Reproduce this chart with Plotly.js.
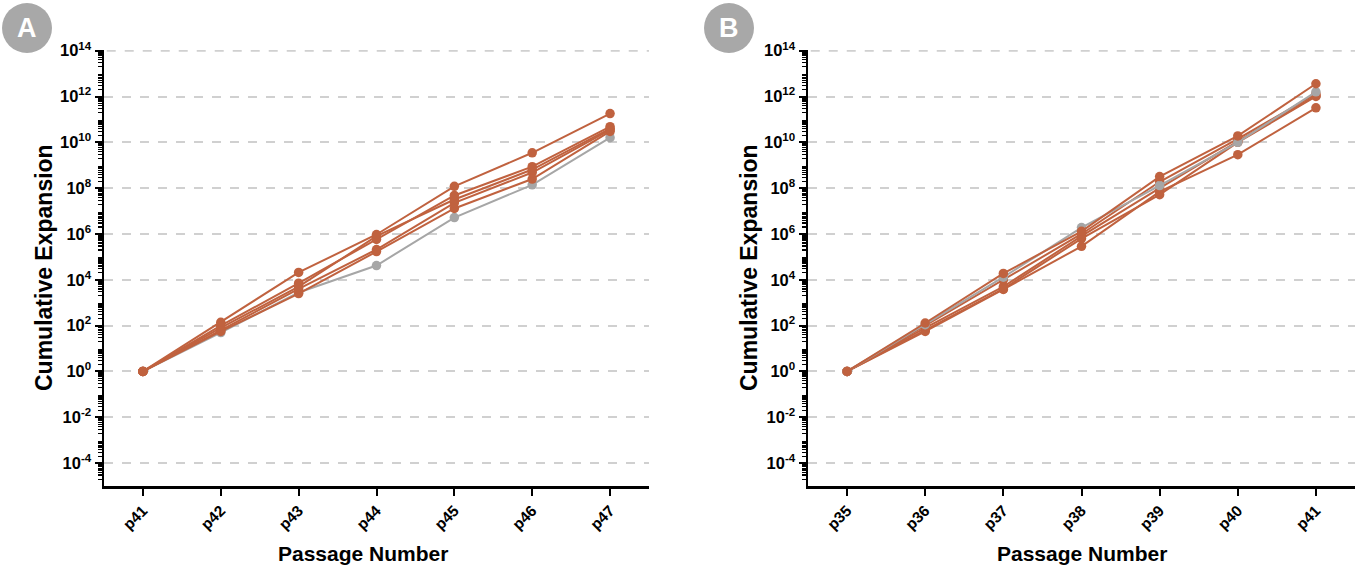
<!DOCTYPE html>
<html>
<head>
<meta charset="utf-8">
<script src="https://cdn.plot.ly/plotly-3.0.1.min.js"></script>
<style>
html,body{margin:0;padding:0;background:#fff;}
#chart{width:1367px;height:572px;}
</style>
</head>
<body>
<div id="chart"></div>
<script>
// Panel A
const passagesA = ["p41","p42","p43","p44","p45","p46","p47"];
const a1 = [1, 1.4e2, 2.1e4, 9.5e5, 1.2e8, 3.5e9, 1.8e11];
const a2 = [1, 1.0e2, 7.1e3, 5.8e5, 4.8e7, 8.7e8, 4.8e10];
const a3 = [1, 8.0e1, 5.0e3, 8.0e5, 3.2e7, 6.5e8, 4.0e10];
const a4 = [1, 6.3e1, 4.0e3, 2.1e5, 2.3e7, 4.8e8, 3.5e10];
const a5 = [1, 5.6e1, 2.5e3, 1.7e5, 1.3e7, 2.5e8, 3.0e10];
const aGray = [1, 5.0e1, 2.8e3, 4.2e4, 5.2e6, 1.4e8, 1.6e10];

// Panel B
const passagesB = ["p35","p36","p37","p38","p39","p40","p41"];
const b1 = [1, 1.3e2, 1.9e4, 1.3e6, 3.2e8, 1.9e10, 3.6e12];
const b2 = [1, 1.0e2, 1.0e4, 1.0e6, 1.9e8, 1.4e10, 1.3e12];
const b3 = [1, 8.0e1, 5.0e3, 8.0e5, 1.0e8, 1.1e10, 1.1e12];
const b4 = [1, 5.6e1, 3.8e3, 2.9e5, 7.1e7, 2.9e9, 3.2e11];
const b5 = [1, 6.3e1, 4.0e3, 6.3e5, 5.2e7, 1.0e10, 1.0e12];
const bGray = [1, 1.1e2, 1.3e4, 1.9e6, 1.3e8, 1.0e10, 1.6e12];

// Y tick labels (exponents of 10)
const yExponents = [-4, -2, 0, 2, 4, 6, 8, 10, 12, 14];
const yTickVals = yExponents.map(e => Math.pow(10, e));
const yTickText = yExponents.map(e => "10<sup>" + e + "</sup>");
const yTop = 1e14;

// minor tick positions (2..9 x 10^k)
const minorVals = [];
for (let k = -5; k < 14; k++) {
  for (let m = 2; m <= 9; m++) minorVals.push(m * Math.pow(10, k));
}

const ORANGE = "#c0623f";
const GRAY = "#a6a6a6";
const GRID = "#d0d0d0";

function tr(x, y, color, xa, ya) {
  return {
    type: "scatter", mode: "lines+markers", x: x, y: y,
    xaxis: xa, yaxis: ya,
    line: {color: color, width: 2},
    marker: {color: color, size: 9.5},
    showlegend: false, hoverinfo: "skip"
  };
}

const data = [
  tr(passagesA, aGray, GRAY, "x", "y"),
  tr(passagesA, a5, ORANGE, "x", "y"),
  tr(passagesA, a4, ORANGE, "x", "y"),
  tr(passagesA, a3, ORANGE, "x", "y"),
  tr(passagesA, a2, ORANGE, "x", "y"),
  tr(passagesA, a1, ORANGE, "x", "y"),
  tr(passagesB, b5, ORANGE, "x2", "y2"),
  tr(passagesB, b4, ORANGE, "x2", "y2"),
  tr(passagesB, b3, ORANGE, "x2", "y2"),
  tr(passagesB, b2, ORANGE, "x2", "y2"),
  tr(passagesB, bGray, GRAY, "x2", "y2"),
  tr(passagesB, b1, ORANGE, "x2", "y2")
];

const FONT = "Liberation Sans, Arial, sans-serif";

function xaxis(domain, anchor) {
  return {
    domain: domain, anchor: anchor, type: "category",
    range: [-0.5, 6.5], showgrid: false, zeroline: false,
    showline: true, linecolor: "#000", linewidth: 2.5,
    ticks: "outside", ticklen: 7, tickwidth: 2, tickcolor: "#000",
    tickangle: -45, automargin: false,
    tickfont: {family: FONT, size: 15.5, color: "#000", weight: "bold"}
  };
}
function yaxis(anchor) {
  return {
    domain: [1 - 486/572, 1 - 50/572], anchor: anchor, type: "log",
    range: [-5, 14.03],
    tickmode: "array", tickvals: yTickVals, ticktext: yTickText,
    showgrid: true, gridcolor: GRID, gridwidth: 2, griddash: "dash",
    zeroline: false, showline: true, linecolor: "#000", linewidth: 2.5,
    ticks: "outside", ticklen: 7, tickwidth: 2, tickcolor: "#000",
    automargin: false,
    minor: {tickmode: "array", tickvals: minorVals, ticks: "outside", ticklen: 4, tickwidth: 1.2, tickcolor: "#000", showgrid: false},
    tickfont: {family: FONT, size: 16.5, color: "#000", weight: "bold"}
  };
}

const layout = {
  width: 1367, height: 572,
  margin: {l: 0, r: 0, t: 0, b: 0},
  paper_bgcolor: "#fff", plot_bgcolor: "#fff",
  showlegend: false,
  xaxis: xaxis([104/1367, 649/1367], "y"),
  yaxis: yaxis("x"),
  xaxis2: xaxis([808/1367, 1355/1367], "y2"),
  yaxis2: yaxis("x2"),
  shapes: [
    {type: "line", xref: "x domain", yref: "y", x0: 0.005, x1: 1, y0: yTop, y1: yTop, layer: "below", line: {color: GRID, width: 2, dash: "dash"}},
    {type: "line", xref: "x2 domain", yref: "y2", x0: 0.005, x1: 1, y0: yTop, y1: yTop, layer: "below", line: {color: GRID, width: 2, dash: "dash"}},
    {type: "circle", xref: "paper", yref: "paper", x0: 2/1367, x1: 52/1367, y0: 1 - 53/572, y1: 1 - 3/572, fillcolor: "#a8a8a8", line: {width: 0}},
    {type: "circle", xref: "paper", yref: "paper", x0: 704/1367, x1: 754/1367, y0: 1 - 53/572, y1: 1 - 3/572, fillcolor: "#a8a8a8", line: {width: 0}}
  ],
  annotations: [
    {text: "A", xref: "paper", yref: "paper", x: 27/1367, y: 1 - 28/572, showarrow: false, xanchor: "center", yanchor: "middle", font: {family: FONT, size: 27, color: "#fff", weight: "bold"}},
    {text: "B", xref: "paper", yref: "paper", x: 729/1367, y: 1 - 28/572, showarrow: false, xanchor: "center", yanchor: "middle", font: {family: FONT, size: 27, color: "#fff", weight: "bold"}},
    {text: "Cumulative Expansion", xref: "paper", yref: "paper", x: 44/1367, y: 1 - 268/572, textangle: -90, showarrow: false, xanchor: "center", yanchor: "middle", font: {family: FONT, size: 23, color: "#000", weight: "bold"}},
    {text: "Cumulative Expansion", xref: "paper", yref: "paper", x: 749/1367, y: 1 - 268/572, textangle: -90, showarrow: false, xanchor: "center", yanchor: "middle", font: {family: FONT, size: 23, color: "#000", weight: "bold"}},
    {text: "Passage Number", xref: "paper", yref: "paper", x: 363/1367, y: 1 - 553/572, showarrow: false, xanchor: "center", yanchor: "middle", font: {family: FONT, size: 21, color: "#000", weight: "bold"}},
    {text: "Passage Number", xref: "paper", yref: "paper", x: 1082/1367, y: 1 - 553/572, showarrow: false, xanchor: "center", yanchor: "middle", font: {family: FONT, size: 21, color: "#000", weight: "bold"}}
  ]
};

Plotly.newPlot("chart", data, layout, {displayModeBar: false, staticPlot: true});
</script>
</body>
</html>
